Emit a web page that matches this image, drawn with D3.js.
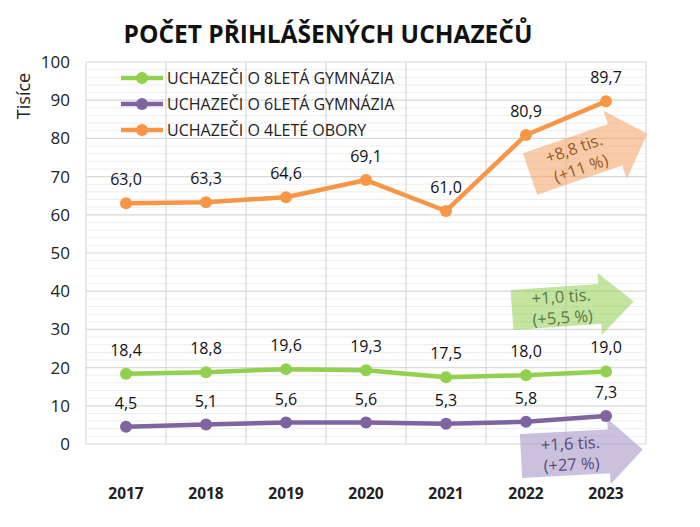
<!DOCTYPE html>
<html>
<head>
<meta charset="utf-8">
<script src="https://cdn.jsdelivr.net/npm/d3@7"></script>
<style>
  body { margin: 0; background: #fff; }
  svg text { font-family: "Open Sans", "Noto Sans", sans-serif; }
</style>
</head>
<body>
<script>
// data (thousands of applicants)
var years = ["2017", "2018", "2019", "2020", "2021", "2022", "2023"];
var gym8 = [18.4, 18.8, 19.6, 19.3, 17.5, 18.0, 19.0];
var gym6 = [4.5, 5.1, 5.6, 5.6, 5.3, 5.8, 7.3];
var obory4 = [63.0, 63.3, 64.6, 69.1, 61.0, 80.9, 89.7];
var seriesNames = ["UCHAZEČI O 8LETÁ GYMNÁZIA", "UCHAZEČI O 6LETÁ GYMNÁZIA", "UCHAZEČI O 4LETÉ OBORY"];
var yTicks = [0, 10, 20, 30, 40, 50, 60, 70, 80, 90, 100];
var arrowNotes = [
  ["+8,8 tis.", "(+11 %)"],
  ["+1,0 tis.", "(+5,5 %)"],
  ["+1,6 tis.", "(+27 %)"]
];

var W = 700, H = 527;
var plotL = 86, plotR = 646, plotT = 62, plotB = 444;

var svg = d3.select("body").append("svg").attr("width", W).attr("height", H);

var x = d3.scaleBand().domain(years).range([plotL, plotR]);
var y = d3.scaleLinear().domain([0, 100]).range([plotB, plotT]);
var cx = function(d) { return x(d) + x.bandwidth() / 2; };

// minor grid every 2
svg.append("g").selectAll("line").data(d3.range(2, 100, 2).filter(function(v) { return v % 10; }))
  .join("line")
  .attr("x1", plotL).attr("x2", plotR)
  .attr("y1", function(d) { return y(d); }).attr("y2", function(d) { return y(d); })
  .attr("stroke", "#eeeeee").attr("stroke-width", 1);

// major grid
svg.append("g").selectAll("line").data(yTicks)
  .join("line")
  .attr("x1", plotL).attr("x2", plotR)
  .attr("y1", function(d) { return y(d); }).attr("y2", function(d) { return y(d); })
  .attr("stroke", "#d9d9d9").attr("stroke-width", 1.2);

// vertical lines at category boundaries
svg.append("g").selectAll("line").data(years.concat(["end"]))
  .join("line")
  .attr("x1", function(d, i) { return plotL + i * x.bandwidth(); })
  .attr("x2", function(d, i) { return plotL + i * x.bandwidth(); })
  .attr("y1", plotT).attr("y2", plotB)
  .attr("stroke", "#d9d9d9").attr("stroke-width", 1.2);

// y axis labels
svg.append("g").selectAll("text").data(yTicks)
  .join("text")
  .attr("x", 70).attr("y", function(d) { return y(d); })
  .attr("dy", "0.35em")
  .attr("text-anchor", "end")
  .attr("font-size", 17).attr("fill", "#222")
  .text(function(d) { return d; });

svg.append("text")
  .attr("transform", "translate(30,96) rotate(-90)")
  .attr("text-anchor", "middle")
  .attr("font-size", 18).attr("fill", "#222")
  .text("Tisíce");

// x axis labels
svg.append("g").selectAll("text").data(years)
  .join("text")
  .attr("x", cx).attr("y", 499)
  .attr("text-anchor", "middle")
  .attr("font-size", 15.5).attr("font-weight", "bold").attr("fill", "#222")
  .text(function(d) { return d; });

// title
svg.append("text")
  .attr("x", 328).attr("y", 43)
  .attr("text-anchor", "middle")
  .attr("font-size", 24.5).attr("font-weight", "bold").attr("fill", "#111")
  .text("POČET PŘIHLÁŠENÝCH UCHAZEČŮ");

// arrows (drawn before lines so lines sit on top)
function arrow(g, len, bodyH, headH, headL) {
  var b = len - headL;
  var pts = [[0, -bodyH / 2], [b, -bodyH / 2], [b, -headH / 2], [len, 0], [b, headH / 2], [b, bodyH / 2], [0, bodyH / 2]];
  g.append("path").attr("d", d3.line()(pts) + "Z");
}
var arrowDefs = [
  { tx: 530, ty: 174, rot: -19, len: 124, bodyH: 44, headH: 72, headL: 34, fill: "#f4a060", op: 0.55, txt: "#9a5a24", tcx: 50 },
  { tx: 512, ty: 310, rot: -4, len: 122, bodyH: 40, headH: 62, headL: 34, fill: "#92d050", op: 0.55, txt: "#5a7a45", tcx: 50 },
  { tx: 521, ty: 456, rot: -3, len: 122, bodyH: 44, headH: 66, headL: 34, fill: "#a898c8", op: 0.6, txt: "#5a4a78", tcx: 50 }
];
arrowDefs.forEach(function(a, i) {
  var g = svg.append("g").attr("transform", "translate(" + a.tx + "," + a.ty + ") rotate(" + a.rot + ")");
  arrow(g.append("g").attr("fill", a.fill).attr("fill-opacity", a.op), a.len, a.bodyH, a.headH, a.headL);
  g.selectAll("text").data(arrowNotes[i]).join("text")
    .attr("x", a.tcx).attr("y", function(d, j) { return j === 0 ? -4 : 17; })
    .attr("text-anchor", "middle")
    .attr("font-size", 16.5).attr("fill", a.txt)
    .text(function(d) { return d; });
});

// series
var series = [
  { name: seriesNames[0], values: gym8, color: "#92d050" },
  { name: seriesNames[1], values: gym6, color: "#8064a2" },
  { name: seriesNames[2], values: obory4, color: "#f79646" }
];
var line = d3.line().x(function(d, i) { return cx(years[i]); }).y(function(d) { return y(d); });
var fmt = function(v) { return d3.format(".1f")(v).replace(".", ","); };

series.forEach(function(s) {
  svg.append("path").attr("d", line(s.values))
    .attr("fill", "none").attr("stroke", s.color).attr("stroke-width", 4.5)
    .attr("stroke-linejoin", "round");
  svg.append("g").selectAll("circle").data(s.values).join("circle")
    .attr("cx", function(d, i) { return cx(years[i]); })
    .attr("cy", function(d) { return y(d); })
    .attr("r", 6).attr("fill", s.color);
  svg.append("g").selectAll("text").data(s.values).join("text")
    .attr("x", function(d, i) { return cx(years[i]); })
    .attr("y", function(d) { return y(d) - 18; })
    .attr("text-anchor", "middle")
    .attr("font-size", 16).attr("fill", "#111")
    .text(fmt);
});

// legend
var leg = svg.append("g");
series.forEach(function(s, i) {
  var ly = 78 + i * 26;
  leg.append("line").attr("x1", 121).attr("x2", 163).attr("y1", ly).attr("y2", ly)
    .attr("stroke", s.color).attr("stroke-width", 4.5);
  leg.append("circle").attr("cx", 142).attr("cy", ly).attr("r", 6).attr("fill", s.color);
  leg.append("text").attr("x", 167).attr("y", ly).attr("dy", "0.35em")
    .attr("font-size", 16).attr("fill", "#222")
    .text(s.name);
});
</script>
</body>
</html>
